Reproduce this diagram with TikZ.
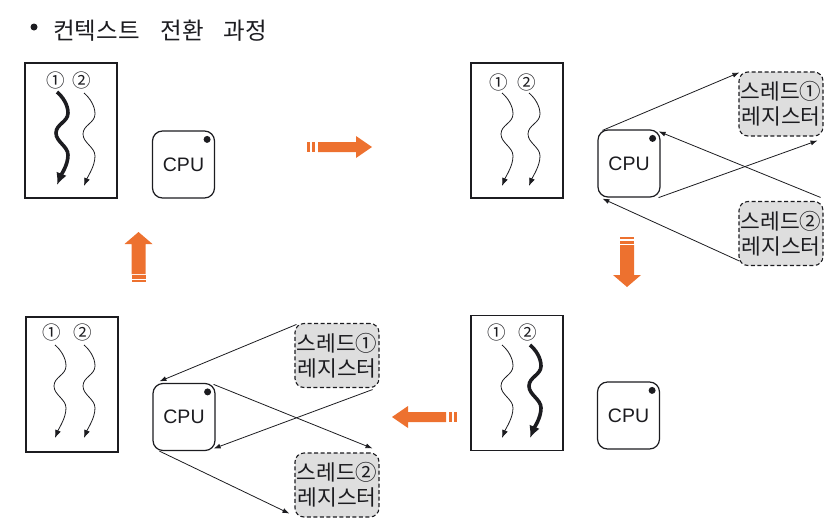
\documentclass[tikz,border=0pt]{standalone}
\usepackage{fontspec}
\setmainfont{Liberation Sans}
\newfontfamily\kr{Noto Sans CJK KR}
\usetikzlibrary{arrows.meta}
\definecolor{orng}{RGB}{237,113,47}
\definecolor{regfill}{RGB}{222,222,222}
\definecolor{ink}{RGB}{28,28,32}
\tikzset{
  panel/.style={draw=ink, line width=1.2pt, minimum width=92pt, minimum height=135pt, inner sep=0pt},
  cpubox/.style={draw=ink, line width=1.2pt, rounded corners=10pt, minimum width=62pt, minimum height=67pt, inner sep=0pt, font=\fontsize{19.5}{19.5}\selectfont, text=ink},
  regbox/.style={draw=ink, fill=regfill, line width=1.1pt, dash pattern=on 4pt off 2.5pt, rounded corners=9pt, minimum width=84pt, minimum height=64pt, inner sep=0pt, align=center, text=ink, font=\kr\fontsize{21.5}{25}\selectfont},
  num/.style={inner sep=0pt, text=ink, font=\kr\fontsize{18.5}{18.5}\selectfont},
  conn/.style={-{Latex[length=7pt,width=5pt]}, line width=0.8pt, draw=ink},
  thinwave/.style={-{Latex[length=8pt,width=6pt]}, line width=0.8pt, draw=ink},
  thickwave/.style={-{Latex[length=12pt,width=11pt]}, line width=3.6pt, draw=ink},
  cpudot/.style={fill=ink},
  pics/wave/.style={code={
    \draw[#1] (0,0) .. controls (6,5) and (11,13) .. (11,21)
      .. controls (11,30) and (-1,32) .. (-1,41)
      .. controls (-1,50) and (11,54) .. (11,63)
      .. controls (11,73) and (4,83) .. (0,93);}},
  pics/wave/.default=thinwave,
  pics/harrow/.style={code={
    \fill[orng] (0,-5) rectangle (3,5);
    \fill[orng] (5,-5) rectangle (8,5);
    \fill[orng] (11,-5) -- (49,-5) -- (49,-11) -- (65,0) -- (49,11) -- (49,5) -- (11,5) -- cycle;}},
  pics/varrow/.style={code={
    \fill[orng] (0,-7) rectangle (2,7);
    \fill[orng] (3.5,-7) rectangle (7,7);
    \fill[orng] (8,-7) -- (38,-7) -- (38,-14) -- (50,0) -- (38,14) -- (38,7) -- (8,7) -- cycle;}}
}
\begin{document}
\begin{tikzpicture}[x=1pt,y=-1pt]
\useasboundingbox (0,0) rectangle (834,525);

% title
\fill[ink] (34,27) circle (3.5);
\node[anchor=west, inner sep=0pt, text=ink, font=\kr\fontsize{23.5}{23.5}\selectfont] (title) at (53,30.5) {컨텍스트\hspace{21pt}전환\hspace{20pt}과정};

% ---------- top-left ----------
\node[panel] (pA) at (71,130.5) {};
\node[num] (a1) at (56,80) {①};
\node[num] (a2) at (82,80) {②};
\pic at (57,92) {wave=thickwave};
\pic at (84,93) {wave=thinwave};
\node[cpubox] (cpuA) at (183.5,164.5) {CPU};
\fill[cpudot] ([shift={(-8,9)}]cpuA.north east) circle (3.5);

% ---------- top-right ----------
\node[panel] (pB) at (517,130.5) {};
\node[num] (b1) at (499,82) {①};
\node[num] (b2) at (527,82) {②};
\pic at (502,93) {wave=thinwave};
\pic at (529,93) {wave=thinwave};
\node[cpubox] (cpuB) at (629,163.5) {CPU};
\fill[cpudot] ([shift={(-8,9)}]cpuB.north east) circle (3.5);
\node[regbox] (rB1) at (781,104) {스레드①\\레지스터};
\node[regbox] (rB2) at (781,233.5) {스레드②\\레지스터};
\draw[conn] ([shift={(5,1)}]cpuB.north west) -- ([shift={(1,1)}]rB1.north west);
\draw[conn] ([shift={(-2,0)}]cpuB.south east) -- ([shift={(-6,4)}]rB1.south east);
\draw[conn] ([shift={(-3,-3.5)}]rB2.north east) -- ([shift={(-2,2)}]cpuB.north east);
\draw[conn] ([shift={(1,-5)}]rB2.south west) -- ([shift={(5,1)}]cpuB.south west);

% ---------- bottom-right ----------
\node[panel] (pC) at (517,383) {};
\node[num] (c1) at (497,332) {①};
\node[num] (c2) at (528,332) {②};
\pic at (502,345) {wave=thinwave};
\pic at (530,345) {wave=thickwave};
\node[cpubox] (cpuC) at (628.5,415.5) {CPU};
\fill[cpudot] ([shift={(-8,9)}]cpuC.north east) circle (3.5);

% ---------- bottom-left ----------
\node[panel] (pD) at (72,384.5) {};
\node[num] (d1) at (52,332) {①};
\node[num] (d2) at (83,332) {②};
\pic at (55,345) {wave=thinwave};
\pic at (84,345) {wave=thinwave};
\node[cpubox] (cpuD) at (184,417) {CPU};
\fill[cpudot] ([shift={(-8,9)}]cpuD.north east) circle (3.5);
\node[regbox] (rD1) at (337,355.5) {스레드①\\레지스터};
\node[regbox] (rD2) at (337,485) {스레드②\\레지스터};
\draw[conn] ([shift={(2,1.5)}]rD1.north west) -- ([shift={(7,-1.5)}]cpuD.north west);
\draw[conn] ([shift={(-7,1.5)}]rD1.south east) -- ([shift={(-2,-2.5)}]cpuD.south east);
\draw[conn] ([shift={(-2,1.5)}]cpuD.north east) -- ([shift={(-7,-4)}]rD2.north east);
\draw[conn] ([shift={(7,0)}]cpuD.south west) -- ([shift={(-5,-4)}]rD2.south west);

% ---------- orange transition arrows ----------
\pic at (307,147) {harrow};
\pic[rotate=-90] at (627,237) {varrow};
\pic[rotate=180] at (457,417) {harrow};
\pic[rotate=90] at (138.5,282) {varrow};
\end{tikzpicture}
\end{document}
